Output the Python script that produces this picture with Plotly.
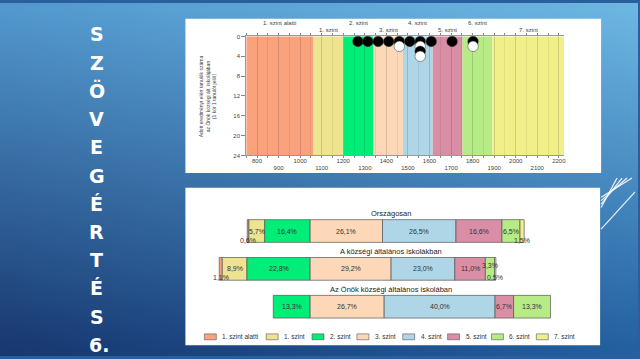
import base64, struct, zlib
import plotly.graph_objects as go

W, H = 640, 359

# ---------------- data ----------------
levels = ["1. szint alatti", "1. szint", "2. szint", "3. szint", "4. szint",
          "5. szint", "6. szint", "7. szint"]
level_colors = ["#F9A27C", "#EEE38E", "#00EE78", "#FDD8B8", "#AED6E6",
                "#DA8EA6", "#B7EB86", "#F1EF8A"]
level_edges = [1062, 1201, 1339, 1477, 1615, 1753, 1891]   # lower bounds of levels 1..7
scale_min, scale_max = 750, 2225

student_scores = [1268, 1314, 1362, 1411, 1460, 1460, 1509, 1557, 1557, 1557, 1557,
                  1608, 1705, 1802, 1802]
student_rank = [1, 1, 1, 1, 1, 2, 1, 1, 2, 3, 4, 1, 1, 1, 2]

x_ticks = list(range(800, 2201, 100))
y_ticks = [0, 4, 8, 12, 16, 20, 24]

groups = ["Országosan", "A községi általános iskolákban",
          "Az Önök községi általános iskolában"]
pct_national = [0.6, 5.7, 16.4, 26.1, 26.5, 16.6, 6.5, 1.5]
pct_village = [1.1, 8.9, 22.8, 29.2, 23.0, 11.0, 3.3, 0.5]
pct_school = [0, 0, 13.3, 26.7, 40.0, 6.7, 13.3, 0]
pct_rows = [pct_national, pct_village, pct_school]

side_title = list("SZÖVEGÉRTÉS") + ["6."]

# ---------------- helpers ----------------
def px(x):
    return x / W

def py(y):
    return 1 - y / H

def gradient_png(w, h, tl, tr, bl, br):
    raw = bytearray()
    for j in range(h):
        t = j / (h - 1)
        raw.append(0)
        for i in range(w):
            s = i / (w - 1)
            for k in range(3):
                v = (1 - t) * ((1 - s) * tl[k] + s * tr[k]) + t * ((1 - s) * bl[k] + s * br[k])
                raw.append(int(round(v)))

    def chunk(tag, data):
        return (struct.pack(">I", len(data)) + tag + data +
                struct.pack(">I", zlib.crc32(tag + data) & 0xFFFFFFFF))

    png = (b"\x89PNG\r\n\x1a\n" +
           chunk(b"IHDR", struct.pack(">IIBBBBB", w, h, 8, 2, 0, 0, 0)) +
           chunk(b"IDAT", zlib.compress(bytes(raw))) +
           chunk(b"IEND", b""))
    return "data:image/png;base64," + base64.b64encode(png).decode()

FONT = "Liberation Sans, Arial, sans-serif"
fig = go.Figure()
shapes, annotations = [], []

# ---------------- background ----------------
bg = gradient_png(40, 24, (82, 152, 206), (108, 182, 226), (24, 56, 112), (36, 96, 160))
images = [dict(source=bg, xref="paper", yref="paper", x=0, y=1, sizex=1, sizey=1,
               xanchor="left", yanchor="top", sizing="stretch", layer="below")]

# white panels
for (x0, y0, x1, y1) in [(186, 16, 603, 173), (186, 188, 602, 348)]:
    shapes.append(dict(type="rect", xref="paper", yref="paper", x0=px(x0), x1=px(x1),
                       y0=py(y1), y1=py(y0), fillcolor="white", line=dict(width=0),
                       layer="below"))

# decorative lines
for (a, b) in [((603, 230), (637, 192)), ((603, 208), (619, 178)), ((603, 204.5), (624, 178)),
               ((603, 201), (629, 178)), ((603, 197.5), (634, 178))]:
    shapes.append(dict(type="line", xref="paper", yref="paper", x0=px(a[0]), y0=py(a[1]),
                       x1=px(b[0]), y1=py(b[1]), line=dict(color="rgba(255,255,255,0.9)", width=1.2)))

# side title
for i, ch in enumerate(side_title):
    annotations.append(dict(text="<b>%s</b>" % ch, xref="paper", yref="paper",
                            x=px(99 if ch == "6." else 97), y=py(32 + i * 28.7),
                            showarrow=False, xanchor="center", yanchor="middle",
                            font=dict(family="DejaVu Sans, Verdana, sans-serif", size=19,
                                      color="white")))

# ---------------- top chart ----------------
band_lo = [scale_min] + level_edges
band_hi = level_edges + [scale_max]
for k in range(len(levels)):
    shapes.append(dict(type="rect", xref="x", yref="y domain", x0=band_lo[k], x1=band_hi[k],
                       y0=0, y1=1, fillcolor=level_colors[k], line=dict(width=0), layer="below"))
    annotations.append(dict(text=levels[k], xref="x", yref="paper",
                            x=(band_lo[k] + band_hi[k]) / 2, y=py(20 if k % 2 == 0 else 27.5),
                            showarrow=False, xanchor="center", yanchor="middle",
                            font=dict(family=FONT, size=6, color="#444")))

order = sorted(range(len(student_scores)), key=lambda i: student_rank[i])
fig.add_trace(go.Scatter(
    x=[student_scores[i] for i in order], y=[student_rank[i] for i in order],
    mode="markers", xaxis="x", yaxis="y", cliponaxis=False, hoverinfo="skip",
    marker=dict(size=10.5,
                color=["black" if student_rank[i] % 2 == 1 else "white" for i in order],
                line=dict(color="#333", width=0.5))))

annotations.append(dict(
    text="Adott eredményt elért tanulók száma<br>az Önök községi ált. iskolájában<br>(1 kör 1 tanulót jelöl)",
    xref="paper", yref="paper", x=px(209), y=py(94.5), textangle=-90, showarrow=False,
    xanchor="center", yanchor="middle", font=dict(family=FONT, size=5, color="#444")))

# ---------------- bottom chart ----------------
for j in range(len(levels)):
    xs, bases = [], []
    for row in pct_rows:
        v = row[j]
        if j < 3:
            b = -sum(row[j:3])
        else:
            b = sum(row[3:j])
        xs.append(v if v > 0 else None)
        bases.append(b)
    fig.add_trace(go.Bar(
        y=list(range(len(groups))), x=xs, base=bases, orientation="h", width=0.6,
        xaxis="x2", yaxis="y2", hoverinfo="skip",
        marker=dict(color=level_colors[j], line=dict(color="#555", width=0.7))))
    for r, row in enumerate(pct_rows):
        v = row[j]
        if v <= 0:
            continue
        c = bases[r] + v / 2
        if v < 2:
            yy = r + 0.24
        elif v < 5:
            yy = r - 0.09
        else:
            yy = r
        annotations.append(dict(text=("%.1f" % v).replace(".", ",") + "%", xref="x2", yref="y2",
                                x=c, y=yy, showarrow=False, xanchor="center", yanchor="middle",
                                font=dict(family=FONT, size=7, color="#333")))

for r, g in enumerate(groups):
    annotations.append(dict(text=g, xref="paper", yref="y2", x=px(392), y=r - 0.46,
                            showarrow=False, xanchor="center", yanchor="middle",
                            font=dict(family=FONT, size=7.5, color="#222")))

# manual legend
legend_x = [205, 267, 313, 358, 404, 449, 493, 538]
for j, lx in enumerate(legend_x):
    shapes.append(dict(type="rect", xref="paper", yref="paper", x0=px(lx), x1=px(lx + 12),
                       y0=py(342.5), y1=py(336.5), fillcolor=level_colors[j],
                       line=dict(color="#555", width=0.6)))
    annotations.append(dict(text=levels[j], xref="paper", yref="paper", x=px(lx + 16),
                            y=py(339.5), showarrow=False, xanchor="left", yanchor="middle",
                            font=dict(family=FONT, size=6.5, color="#333")))

# ---------------- layout ----------------
fig.update_layout(
    width=W, height=H, margin=dict(l=0, r=0, t=0, b=0),
    paper_bgcolor="#2a5f9e", plot_bgcolor="rgba(0,0,0,0)",
    showlegend=False, barmode="overlay",
    images=images, shapes=shapes, annotations=annotations,
    xaxis=dict(domain=[px(247), px(566)], range=[scale_min, scale_max], anchor="y",
               tickmode="array", tickvals=x_ticks,
               ticktext=[str(t) if i % 2 == 0 else "<br>" + str(t) for i, t in enumerate(x_ticks)],
               ticks="outside", ticklen=2, tickcolor="#888", showline=True, linecolor="#999",
               linewidth=1, mirror="ticks", showgrid=True, gridcolor="rgba(0,0,0,0.07)",
               gridwidth=0.6, zeroline=False, ticklabelstandoff=-3,
               minor=dict(dtick=50, tick0=750, ticks="outside", ticklen=2, tickcolor="#888",
                          showgrid=True, gridcolor="rgba(0,0,0,0.07)", gridwidth=0.6),
               tickfont=dict(family=FONT, size=6, color="#444")),
    yaxis=dict(domain=[py(155), py(34)], range=[24, 0], anchor="x",
               tickmode="array", tickvals=y_ticks, ticks="outside", ticklen=4,
               tickcolor="#888", showline=True, linecolor="#999", linewidth=1,
               showgrid=False, zeroline=False,
               tickfont=dict(family=FONT, size=6, color="#444")),
    xaxis2=dict(domain=[px(186), px(602)], range=[-45.0, 104.6], anchor="y2",
                visible=False),
    yaxis2=dict(domain=[py(348), py(188)], range=[3.016, -1.14], anchor="x2",
                visible=False),
)

fig.write_html(
    "out.html",
    config={"displayModeBar": False},
    post_script="document.body.style.margin='0';document.body.style.padding='0';"
                "document.body.style.overflow='hidden';",
)
